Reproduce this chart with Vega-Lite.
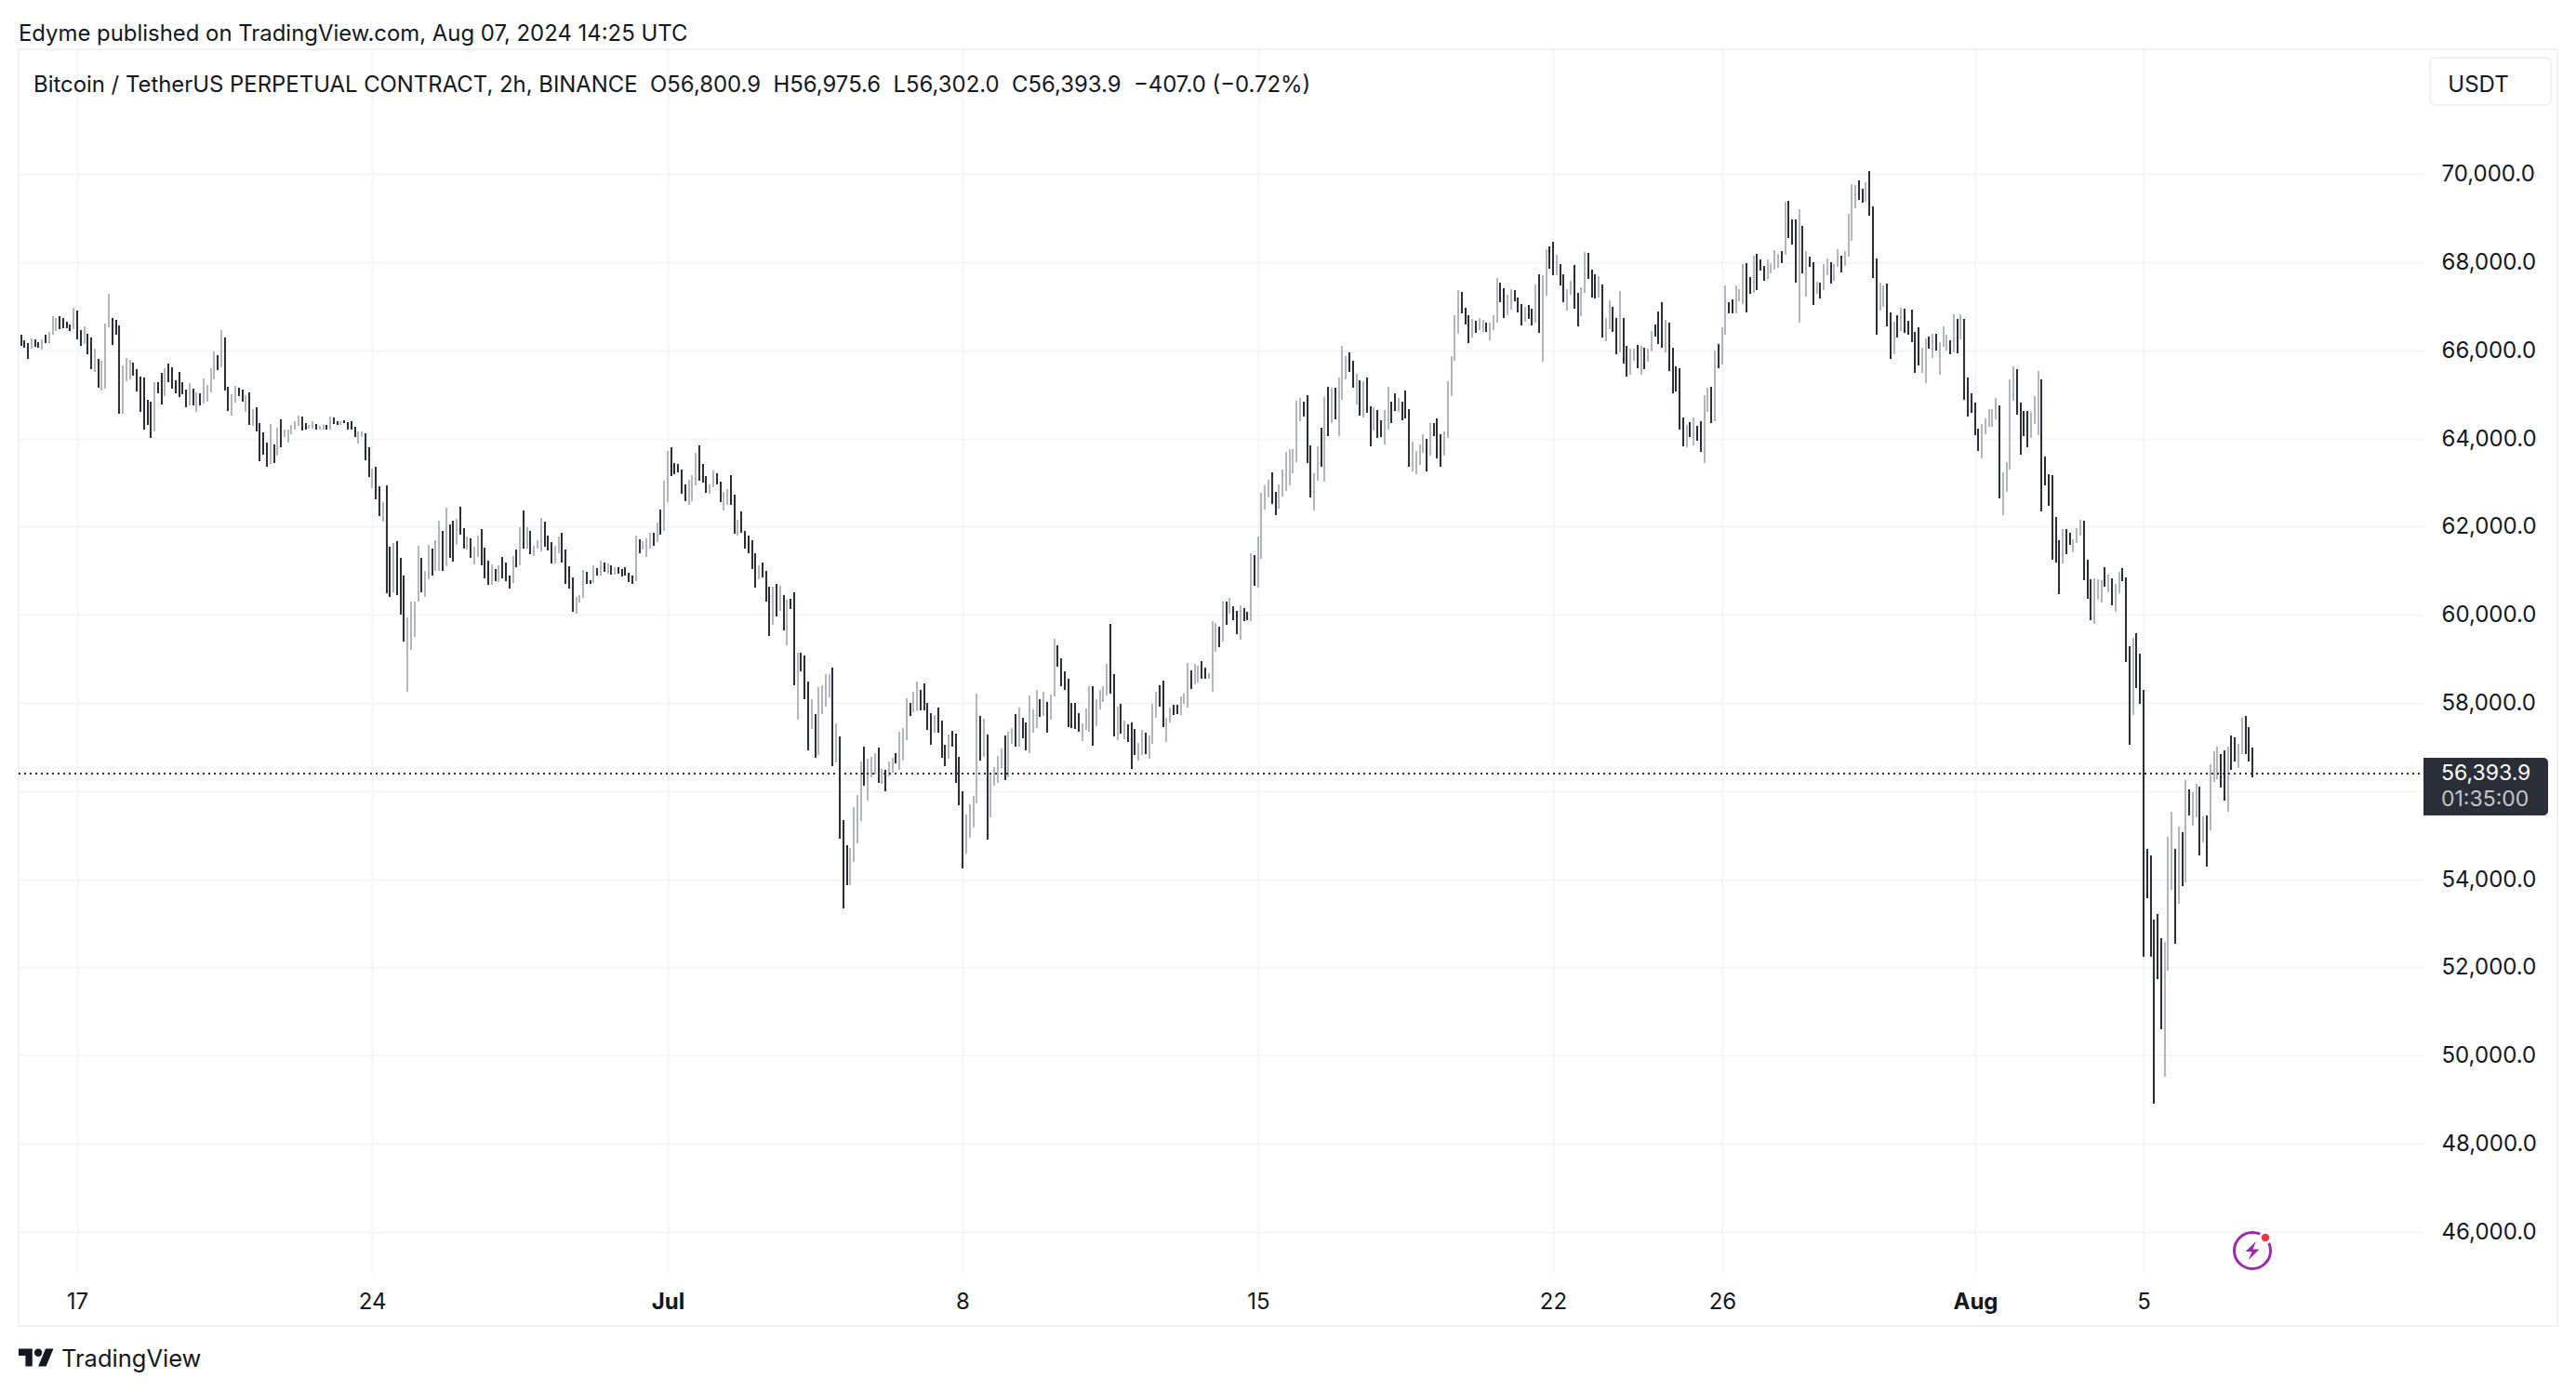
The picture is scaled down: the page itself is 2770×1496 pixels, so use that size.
{
"$schema":"https://vega.github.io/schema/vega-lite/v6.json",
"description":"BTCUSDT perpetual 2h high-low bars",
"background":"white",
"autosize":{"type":"none"},
"padding":{"left":20,"top":53,"right":164,"bottom":127},
"width":2586,
"height":1316,
"title":{"text":"Edyme published on TradingView.com, Aug 07, 2024 14:25 UTC","anchor":"start","frame":"group","offset":3,"fontSize":23.9,"fontWeight":"normal","font":"Inter","color":"#131722"},
"config":{"view":{"stroke":null},"text":{"font":"Inter"}},
"layer":[
{"data":{"values":[{}]},
 "mark":{"type":"rect","fill":"transparent","stroke":"#f0f1f6","strokeWidth":2},
 "encoding":{
  "x":{"datum":{"year":2024,"month":"jun","date":15,"hours":14,"minutes":40,"utc":true},"type":"temporal"},
  "x2":{"datum":{"year":2024,"month":"aug","date":14,"hours":19,"minutes":26,"utc":true}},
  "y":{"datum":72834,"type":"quantitative"},
  "y2":{"datum":43862}}},
{"data":{"values":[
{"t":"2024-06-15T16:00Z","lo":66105,"hi":66359,"dir":"d"},{"t":"2024-06-15T18:00Z","lo":66063,"hi":66232,"dir":"d"},{"t":"2024-06-15T20:00Z","lo":65810,"hi":66169,"dir":"d"},{"t":"2024-06-15T22:00Z","lo":66042,"hi":66274,"dir":"u"},
{"t":"2024-06-16T00:00Z","lo":66084,"hi":66253,"dir":"d"},{"t":"2024-06-16T02:00Z","lo":66063,"hi":66190,"dir":"d"},{"t":"2024-06-16T04:00Z","lo":66021,"hi":66253,"dir":"u"},{"t":"2024-06-16T06:00Z","lo":66169,"hi":66359,"dir":"d"},{"t":"2024-06-16T08:00Z","lo":66169,"hi":66422,"dir":"u"},{"t":"2024-06-16T10:00Z","lo":66359,"hi":66780,"dir":"u"},{"t":"2024-06-16T12:00Z","lo":66443,"hi":66738,"dir":"u"},{"t":"2024-06-16T14:00Z","lo":66485,"hi":66780,"dir":"d"},{"t":"2024-06-16T16:00Z","lo":66506,"hi":66738,"dir":"d"},{"t":"2024-06-16T18:00Z","lo":66506,"hi":66654,"dir":"d"},{"t":"2024-06-16T20:00Z","lo":66443,"hi":66591,"dir":"d"},{"t":"2024-06-16T22:00Z","lo":66485,"hi":66970,"dir":"u"},
{"t":"2024-06-17T00:00Z","lo":66253,"hi":66907,"dir":"d"},{"t":"2024-06-17T02:00Z","lo":66105,"hi":66464,"dir":"d"},{"t":"2024-06-17T04:00Z","lo":66148,"hi":66548,"dir":"u"},{"t":"2024-06-17T06:00Z","lo":65916,"hi":66380,"dir":"d"},{"t":"2024-06-17T08:00Z","lo":65578,"hi":66295,"dir":"d"},{"t":"2024-06-17T10:00Z","lo":65515,"hi":66042,"dir":"u"},{"t":"2024-06-17T12:00Z","lo":65156,"hi":65810,"dir":"d"},{"t":"2024-06-17T14:00Z","lo":65093,"hi":65768,"dir":"u"},{"t":"2024-06-17T16:00Z","lo":65135,"hi":66612,"dir":"u"},{"t":"2024-06-17T18:00Z","lo":66527,"hi":67286,"dir":"u"},{"t":"2024-06-17T20:00Z","lo":66127,"hi":66738,"dir":"d"},{"t":"2024-06-17T22:00Z","lo":66359,"hi":66696,"dir":"d"},
{"t":"2024-06-18T00:00Z","lo":64566,"hi":66569,"dir":"d"},{"t":"2024-06-18T02:00Z","lo":64566,"hi":65663,"dir":"u"},{"t":"2024-06-18T04:00Z","lo":65304,"hi":65831,"dir":"u"},{"t":"2024-06-18T06:00Z","lo":65346,"hi":65789,"dir":"u"},{"t":"2024-06-18T08:00Z","lo":65431,"hi":65726,"dir":"d"},{"t":"2024-06-18T10:00Z","lo":65072,"hi":65578,"dir":"d"},{"t":"2024-06-18T12:00Z","lo":64608,"hi":65409,"dir":"d"},{"t":"2024-06-18T14:00Z","lo":64207,"hi":65388,"dir":"d"},{"t":"2024-06-18T16:00Z","lo":64313,"hi":64882,"dir":"d"},{"t":"2024-06-18T18:00Z","lo":64017,"hi":64840,"dir":"d"},{"t":"2024-06-18T20:00Z","lo":64165,"hi":65283,"dir":"u"},{"t":"2024-06-18T22:00Z","lo":65030,"hi":65283,"dir":"d"},
{"t":"2024-06-19T00:00Z","lo":64777,"hi":65494,"dir":"d"},{"t":"2024-06-19T02:00Z","lo":64967,"hi":65599,"dir":"u"},{"t":"2024-06-19T04:00Z","lo":65283,"hi":65705,"dir":"d"},{"t":"2024-06-19T06:00Z","lo":65135,"hi":65620,"dir":"d"},{"t":"2024-06-19T08:00Z","lo":65030,"hi":65325,"dir":"d"},{"t":"2024-06-19T10:00Z","lo":64946,"hi":65515,"dir":"d"},{"t":"2024-06-19T12:00Z","lo":65009,"hi":65283,"dir":"d"},{"t":"2024-06-19T14:00Z","lo":64714,"hi":65114,"dir":"d"},{"t":"2024-06-19T16:00Z","lo":64756,"hi":65262,"dir":"u"},{"t":"2024-06-19T18:00Z","lo":64756,"hi":65135,"dir":"d"},{"t":"2024-06-19T20:00Z","lo":64608,"hi":65051,"dir":"u"},{"t":"2024-06-19T22:00Z","lo":64756,"hi":65030,"dir":"d"},
{"t":"2024-06-20T00:00Z","lo":64798,"hi":65367,"dir":"u"},{"t":"2024-06-20T02:00Z","lo":64840,"hi":65220,"dir":"u"},{"t":"2024-06-20T04:00Z","lo":65051,"hi":65599,"dir":"u"},{"t":"2024-06-20T06:00Z","lo":65346,"hi":65979,"dir":"u"},{"t":"2024-06-20T08:00Z","lo":65557,"hi":65895,"dir":"d"},{"t":"2024-06-20T10:00Z","lo":65620,"hi":66464,"dir":"u"},{"t":"2024-06-20T12:00Z","lo":65093,"hi":66295,"dir":"d"},{"t":"2024-06-20T14:00Z","lo":64629,"hi":65177,"dir":"d"},{"t":"2024-06-20T16:00Z","lo":64524,"hi":65009,"dir":"u"},{"t":"2024-06-20T18:00Z","lo":64819,"hi":65199,"dir":"u"},{"t":"2024-06-20T20:00Z","lo":64967,"hi":65156,"dir":"d"},{"t":"2024-06-20T22:00Z","lo":64840,"hi":65114,"dir":"d"},
{"t":"2024-06-21T00:00Z","lo":64608,"hi":64988,"dir":"u"},{"t":"2024-06-21T02:00Z","lo":64313,"hi":65051,"dir":"d"},{"t":"2024-06-21T04:00Z","lo":64292,"hi":64671,"dir":"u"},{"t":"2024-06-21T06:00Z","lo":64165,"hi":64713,"dir":"d"},{"t":"2024-06-21T08:00Z","lo":63490,"hi":64355,"dir":"d"},{"t":"2024-06-21T10:00Z","lo":63638,"hi":64144,"dir":"d"},{"t":"2024-06-21T12:00Z","lo":63364,"hi":63912,"dir":"d"},{"t":"2024-06-21T14:00Z","lo":63427,"hi":64334,"dir":"u"},{"t":"2024-06-21T16:00Z","lo":63448,"hi":63870,"dir":"d"},{"t":"2024-06-21T18:00Z","lo":63617,"hi":64250,"dir":"u"},{"t":"2024-06-21T20:00Z","lo":63807,"hi":64439,"dir":"d"},{"t":"2024-06-21T22:00Z","lo":64039,"hi":64207,"dir":"u"},
{"t":"2024-06-22T00:00Z","lo":63912,"hi":64207,"dir":"u"},{"t":"2024-06-22T02:00Z","lo":64102,"hi":64313,"dir":"u"},{"t":"2024-06-22T04:00Z","lo":64207,"hi":64397,"dir":"u"},{"t":"2024-06-22T06:00Z","lo":64292,"hi":64524,"dir":"u"},{"t":"2024-06-22T08:00Z","lo":64186,"hi":64503,"dir":"d"},{"t":"2024-06-22T10:00Z","lo":64207,"hi":64355,"dir":"d"},{"t":"2024-06-22T12:00Z","lo":64228,"hi":64313,"dir":"u"},{"t":"2024-06-22T14:00Z","lo":64228,"hi":64397,"dir":"u"},{"t":"2024-06-22T16:00Z","lo":64207,"hi":64334,"dir":"d"},{"t":"2024-06-22T18:00Z","lo":64207,"hi":64292,"dir":"u"},{"t":"2024-06-22T20:00Z","lo":64207,"hi":64313,"dir":"u"},{"t":"2024-06-22T22:00Z","lo":64207,"hi":64313,"dir":"d"},
{"t":"2024-06-23T00:00Z","lo":64207,"hi":64503,"dir":"u"},{"t":"2024-06-23T02:00Z","lo":64334,"hi":64482,"dir":"d"},{"t":"2024-06-23T04:00Z","lo":64313,"hi":64397,"dir":"d"},{"t":"2024-06-23T06:00Z","lo":64313,"hi":64397,"dir":"u"},{"t":"2024-06-23T08:00Z","lo":64355,"hi":64418,"dir":"d"},{"t":"2024-06-23T10:00Z","lo":64207,"hi":64376,"dir":"d"},{"t":"2024-06-23T12:00Z","lo":64207,"hi":64397,"dir":"d"},{"t":"2024-06-23T14:00Z","lo":64039,"hi":64271,"dir":"d"},{"t":"2024-06-23T16:00Z","lo":63891,"hi":64165,"dir":"u"},{"t":"2024-06-23T18:00Z","lo":64039,"hi":64165,"dir":"u"},{"t":"2024-06-23T20:00Z","lo":63511,"hi":64123,"dir":"d"},{"t":"2024-06-23T22:00Z","lo":63132,"hi":63807,"dir":"d"},
{"t":"2024-06-24T00:00Z","lo":62879,"hi":63322,"dir":"u"},{"t":"2024-06-24T02:00Z","lo":62626,"hi":63364,"dir":"d"},{"t":"2024-06-24T04:00Z","lo":62246,"hi":62921,"dir":"d"},{"t":"2024-06-24T06:00Z","lo":62119,"hi":62562,"dir":"u"},{"t":"2024-06-24T08:00Z","lo":60496,"hi":62942,"dir":"d"},{"t":"2024-06-24T10:00Z","lo":60400,"hi":61550,"dir":"d"},{"t":"2024-06-24T12:00Z","lo":60500,"hi":61634,"dir":"u"},{"t":"2024-06-24T14:00Z","lo":60450,"hi":61677,"dir":"d"},{"t":"2024-06-24T16:00Z","lo":60000,"hi":61300,"dir":"d"},{"t":"2024-06-24T18:00Z","lo":59400,"hi":60900,"dir":"d"},{"t":"2024-06-24T20:00Z","lo":58250,"hi":59950,"dir":"u"},{"t":"2024-06-24T22:00Z","lo":59200,"hi":60300,"dir":"u"},
{"t":"2024-06-25T00:00Z","lo":59500,"hi":60300,"dir":"u"},{"t":"2024-06-25T02:00Z","lo":60300,"hi":61571,"dir":"u"},{"t":"2024-06-25T04:00Z","lo":60500,"hi":61300,"dir":"d"},{"t":"2024-06-25T06:00Z","lo":60400,"hi":61000,"dir":"u"},{"t":"2024-06-25T08:00Z","lo":60800,"hi":61592,"dir":"u"},{"t":"2024-06-25T10:00Z","lo":60900,"hi":61500,"dir":"d"},{"t":"2024-06-25T12:00Z","lo":61000,"hi":61700,"dir":"u"},{"t":"2024-06-25T14:00Z","lo":61000,"hi":62141,"dir":"u"},{"t":"2024-06-25T16:00Z","lo":61000,"hi":61908,"dir":"d"},{"t":"2024-06-25T18:00Z","lo":61100,"hi":62436,"dir":"u"},{"t":"2024-06-25T20:00Z","lo":61300,"hi":62056,"dir":"d"},{"t":"2024-06-25T22:00Z","lo":61200,"hi":62141,"dir":"d"},
{"t":"2024-06-26T00:00Z","lo":61592,"hi":62169,"dir":"u"},{"t":"2024-06-26T02:00Z","lo":61824,"hi":62457,"dir":"d"},{"t":"2024-06-26T04:00Z","lo":61508,"hi":61972,"dir":"d"},{"t":"2024-06-26T06:00Z","lo":61487,"hi":61782,"dir":"u"},{"t":"2024-06-26T08:00Z","lo":61297,"hi":61740,"dir":"d"},{"t":"2024-06-26T10:00Z","lo":61149,"hi":61550,"dir":"u"},{"t":"2024-06-26T12:00Z","lo":61318,"hi":61803,"dir":"u"},{"t":"2024-06-26T14:00Z","lo":61128,"hi":61951,"dir":"d"},{"t":"2024-06-26T16:00Z","lo":60833,"hi":61529,"dir":"d"},{"t":"2024-06-26T18:00Z","lo":60685,"hi":61234,"dir":"d"},{"t":"2024-06-26T20:00Z","lo":60685,"hi":61149,"dir":"u"},{"t":"2024-06-26T22:00Z","lo":60770,"hi":61044,"dir":"d"},
{"t":"2024-06-27T00:00Z","lo":60749,"hi":61128,"dir":"u"},{"t":"2024-06-27T02:00Z","lo":60833,"hi":61318,"dir":"d"},{"t":"2024-06-27T04:00Z","lo":60770,"hi":61192,"dir":"d"},{"t":"2024-06-27T06:00Z","lo":60601,"hi":60896,"dir":"d"},{"t":"2024-06-27T08:00Z","lo":60728,"hi":61339,"dir":"u"},{"t":"2024-06-27T10:00Z","lo":61086,"hi":61487,"dir":"d"},{"t":"2024-06-27T12:00Z","lo":61128,"hi":61993,"dir":"u"},{"t":"2024-06-27T14:00Z","lo":61508,"hi":62373,"dir":"d"},{"t":"2024-06-27T16:00Z","lo":61508,"hi":61993,"dir":"u"},{"t":"2024-06-27T18:00Z","lo":61381,"hi":61909,"dir":"d"},{"t":"2024-06-27T20:00Z","lo":61339,"hi":61571,"dir":"u"},{"t":"2024-06-27T22:00Z","lo":61508,"hi":61698,"dir":"u"},
{"t":"2024-06-28T00:00Z","lo":61445,"hi":62204,"dir":"u"},{"t":"2024-06-28T02:00Z","lo":61550,"hi":62120,"dir":"d"},{"t":"2024-06-28T04:00Z","lo":61466,"hi":61803,"dir":"d"},{"t":"2024-06-28T06:00Z","lo":61170,"hi":61656,"dir":"d"},{"t":"2024-06-28T08:00Z","lo":61170,"hi":61571,"dir":"u"},{"t":"2024-06-28T10:00Z","lo":61402,"hi":61782,"dir":"u"},{"t":"2024-06-28T12:00Z","lo":61192,"hi":61866,"dir":"d"},{"t":"2024-06-28T14:00Z","lo":60706,"hi":61487,"dir":"d"},{"t":"2024-06-28T16:00Z","lo":60601,"hi":61107,"dir":"d"},{"t":"2024-06-28T18:00Z","lo":60074,"hi":60854,"dir":"d"},{"t":"2024-06-28T20:00Z","lo":60032,"hi":60411,"dir":"u"},{"t":"2024-06-28T22:00Z","lo":60285,"hi":60453,"dir":"u"},
{"t":"2024-06-29T00:00Z","lo":60390,"hi":61023,"dir":"u"},{"t":"2024-06-29T02:00Z","lo":60706,"hi":60981,"dir":"d"},{"t":"2024-06-29T04:00Z","lo":60706,"hi":60791,"dir":"d"},{"t":"2024-06-29T06:00Z","lo":60728,"hi":61128,"dir":"u"},{"t":"2024-06-29T08:00Z","lo":60896,"hi":61065,"dir":"d"},{"t":"2024-06-29T10:00Z","lo":60896,"hi":61234,"dir":"u"},{"t":"2024-06-29T12:00Z","lo":60981,"hi":61192,"dir":"d"},{"t":"2024-06-29T14:00Z","lo":60938,"hi":61170,"dir":"u"},{"t":"2024-06-29T16:00Z","lo":60917,"hi":61128,"dir":"d"},{"t":"2024-06-29T18:00Z","lo":60917,"hi":61086,"dir":"u"},{"t":"2024-06-29T20:00Z","lo":60938,"hi":61086,"dir":"d"},{"t":"2024-06-29T22:00Z","lo":60875,"hi":61044,"dir":"d"},
{"t":"2024-06-30T00:00Z","lo":60896,"hi":61086,"dir":"d"},{"t":"2024-06-30T02:00Z","lo":60749,"hi":60960,"dir":"d"},{"t":"2024-06-30T04:00Z","lo":60706,"hi":60896,"dir":"d"},{"t":"2024-06-30T06:00Z","lo":60770,"hi":61803,"dir":"u"},{"t":"2024-06-30T08:00Z","lo":61402,"hi":61719,"dir":"d"},{"t":"2024-06-30T10:00Z","lo":61487,"hi":61677,"dir":"u"},{"t":"2024-06-30T12:00Z","lo":61318,"hi":61740,"dir":"u"},{"t":"2024-06-30T14:00Z","lo":61508,"hi":61866,"dir":"u"},{"t":"2024-06-30T16:00Z","lo":61571,"hi":61866,"dir":"d"},{"t":"2024-06-30T18:00Z","lo":61656,"hi":62098,"dir":"u"},{"t":"2024-06-30T20:00Z","lo":61824,"hi":62394,"dir":"d"},{"t":"2024-06-30T22:00Z","lo":61909,"hi":63047,"dir":"u"},
{"t":"2024-07-01T00:00Z","lo":62562,"hi":63722,"dir":"u"},{"t":"2024-07-01T02:00Z","lo":63153,"hi":63807,"dir":"d"},{"t":"2024-07-01T04:00Z","lo":63195,"hi":63448,"dir":"d"},{"t":"2024-07-01T06:00Z","lo":63237,"hi":63427,"dir":"d"},{"t":"2024-07-01T08:00Z","lo":62752,"hi":63300,"dir":"d"},{"t":"2024-07-01T10:00Z","lo":62584,"hi":62963,"dir":"d"},{"t":"2024-07-01T12:00Z","lo":62499,"hi":63069,"dir":"u"},{"t":"2024-07-01T14:00Z","lo":62584,"hi":63174,"dir":"u"},{"t":"2024-07-01T16:00Z","lo":62942,"hi":63680,"dir":"u"},{"t":"2024-07-01T18:00Z","lo":63047,"hi":63849,"dir":"d"},{"t":"2024-07-01T20:00Z","lo":63005,"hi":63427,"dir":"d"},{"t":"2024-07-01T22:00Z","lo":62773,"hi":63153,"dir":"d"},
{"t":"2024-07-02T00:00Z","lo":62752,"hi":62963,"dir":"u"},{"t":"2024-07-02T02:00Z","lo":62900,"hi":63279,"dir":"u"},{"t":"2024-07-02T04:00Z","lo":62963,"hi":63216,"dir":"d"},{"t":"2024-07-02T06:00Z","lo":62562,"hi":63026,"dir":"d"},{"t":"2024-07-02T08:00Z","lo":62373,"hi":62794,"dir":"u"},{"t":"2024-07-02T10:00Z","lo":62499,"hi":62858,"dir":"u"},{"t":"2024-07-02T12:00Z","lo":62499,"hi":63174,"dir":"d"},{"t":"2024-07-02T14:00Z","lo":61845,"hi":62731,"dir":"d"},{"t":"2024-07-02T16:00Z","lo":61803,"hi":62162,"dir":"u"},{"t":"2024-07-02T18:00Z","lo":61866,"hi":62352,"dir":"d"},{"t":"2024-07-02T20:00Z","lo":61500,"hi":61900,"dir":"d"},{"t":"2024-07-02T22:00Z","lo":61400,"hi":61800,"dir":"d"},
{"t":"2024-07-03T00:00Z","lo":61032,"hi":61700,"dir":"d"},{"t":"2024-07-03T02:00Z","lo":60611,"hi":61400,"dir":"d"},{"t":"2024-07-03T04:00Z","lo":60800,"hi":61116,"dir":"u"},{"t":"2024-07-03T06:00Z","lo":60842,"hi":61179,"dir":"d"},{"t":"2024-07-03T08:00Z","lo":60295,"hi":60990,"dir":"d"},{"t":"2024-07-03T10:00Z","lo":59516,"hi":60632,"dir":"d"},{"t":"2024-07-03T12:00Z","lo":59768,"hi":60632,"dir":"u"},{"t":"2024-07-03T14:00Z","lo":59958,"hi":60695,"dir":"d"},{"t":"2024-07-03T16:00Z","lo":60084,"hi":60653,"dir":"u"},{"t":"2024-07-03T18:00Z","lo":59642,"hi":60442,"dir":"d"},{"t":"2024-07-03T20:00Z","lo":59305,"hi":60337,"dir":"u"},{"t":"2024-07-03T22:00Z","lo":60126,"hi":60358,"dir":"d"},
{"t":"2024-07-04T00:00Z","lo":58399,"hi":60505,"dir":"d"},{"t":"2024-07-04T02:00Z","lo":57620,"hi":59137,"dir":"u"},{"t":"2024-07-04T04:00Z","lo":58715,"hi":59137,"dir":"d"},{"t":"2024-07-04T06:00Z","lo":58084,"hi":59073,"dir":"d"},{"t":"2024-07-04T08:00Z","lo":56925,"hi":58484,"dir":"d"},{"t":"2024-07-04T10:00Z","lo":57410,"hi":58084,"dir":"u"},{"t":"2024-07-04T12:00Z","lo":56757,"hi":57747,"dir":"d"},{"t":"2024-07-04T14:00Z","lo":56820,"hi":58357,"dir":"u"},{"t":"2024-07-04T16:00Z","lo":57747,"hi":58399,"dir":"u"},{"t":"2024-07-04T18:00Z","lo":57915,"hi":58652,"dir":"u"},{"t":"2024-07-04T20:00Z","lo":58126,"hi":58652,"dir":"u"},{"t":"2024-07-04T22:00Z","lo":56567,"hi":58800,"dir":"d"},
{"t":"2024-07-05T00:00Z","lo":56651,"hi":57536,"dir":"u"},{"t":"2024-07-05T02:00Z","lo":54924,"hi":57241,"dir":"d"},{"t":"2024-07-05T04:00Z","lo":53345,"hi":55346,"dir":"d"},{"t":"2024-07-05T06:00Z","lo":53871,"hi":54777,"dir":"d"},{"t":"2024-07-05T08:00Z","lo":53871,"hi":54714,"dir":"u"},{"t":"2024-07-05T10:00Z","lo":54398,"hi":55640,"dir":"u"},{"t":"2024-07-05T12:00Z","lo":54819,"hi":55914,"dir":"u"},{"t":"2024-07-05T14:00Z","lo":55325,"hi":56672,"dir":"u"},{"t":"2024-07-05T16:00Z","lo":56125,"hi":57009,"dir":"d"},{"t":"2024-07-05T18:00Z","lo":55788,"hi":56736,"dir":"u"},{"t":"2024-07-05T20:00Z","lo":56315,"hi":56778,"dir":"u"},{"t":"2024-07-05T22:00Z","lo":56378,"hi":56862,"dir":"u"},
{"t":"2024-07-06T00:00Z","lo":56188,"hi":56988,"dir":"d"},{"t":"2024-07-06T02:00Z","lo":56167,"hi":56504,"dir":"u"},{"t":"2024-07-06T04:00Z","lo":55998,"hi":56483,"dir":"d"},{"t":"2024-07-06T06:00Z","lo":56336,"hi":56672,"dir":"u"},{"t":"2024-07-06T08:00Z","lo":56420,"hi":56757,"dir":"u"},{"t":"2024-07-06T10:00Z","lo":56630,"hi":56862,"dir":"d"},{"t":"2024-07-06T12:00Z","lo":56483,"hi":57347,"dir":"u"},{"t":"2024-07-06T14:00Z","lo":56694,"hi":57431,"dir":"u"},{"t":"2024-07-06T16:00Z","lo":57157,"hi":58105,"dir":"u"},{"t":"2024-07-06T18:00Z","lo":57704,"hi":58000,"dir":"d"},{"t":"2024-07-06T20:00Z","lo":57788,"hi":58252,"dir":"u"},{"t":"2024-07-06T22:00Z","lo":57831,"hi":58484,"dir":"u"},
{"t":"2024-07-07T00:00Z","lo":57831,"hi":58294,"dir":"d"},{"t":"2024-07-07T02:00Z","lo":57831,"hi":58442,"dir":"d"},{"t":"2024-07-07T04:00Z","lo":57389,"hi":58000,"dir":"d"},{"t":"2024-07-07T06:00Z","lo":57052,"hi":57768,"dir":"d"},{"t":"2024-07-07T08:00Z","lo":57325,"hi":57726,"dir":"u"},{"t":"2024-07-07T10:00Z","lo":57325,"hi":57894,"dir":"d"},{"t":"2024-07-07T12:00Z","lo":56757,"hi":57599,"dir":"d"},{"t":"2024-07-07T14:00Z","lo":56567,"hi":57052,"dir":"d"},{"t":"2024-07-07T16:00Z","lo":56736,"hi":57283,"dir":"u"},{"t":"2024-07-07T18:00Z","lo":57009,"hi":57367,"dir":"d"},{"t":"2024-07-07T20:00Z","lo":56188,"hi":57304,"dir":"d"},{"t":"2024-07-07T22:00Z","lo":55683,"hi":56778,"dir":"d"},
{"t":"2024-07-08T00:00Z","lo":54251,"hi":55999,"dir":"d"},{"t":"2024-07-08T02:00Z","lo":54588,"hi":55472,"dir":"u"},{"t":"2024-07-08T04:00Z","lo":54946,"hi":55704,"dir":"u"},{"t":"2024-07-08T06:00Z","lo":55177,"hi":55893,"dir":"u"},{"t":"2024-07-08T08:00Z","lo":55725,"hi":58210,"dir":"u"},{"t":"2024-07-08T10:00Z","lo":56694,"hi":57704,"dir":"d"},{"t":"2024-07-08T12:00Z","lo":56778,"hi":57641,"dir":"u"},{"t":"2024-07-08T14:00Z","lo":54903,"hi":57283,"dir":"d"},{"t":"2024-07-08T16:00Z","lo":55409,"hi":56378,"dir":"u"},{"t":"2024-07-08T18:00Z","lo":56125,"hi":56546,"dir":"u"},{"t":"2024-07-08T20:00Z","lo":56188,"hi":56799,"dir":"u"},{"t":"2024-07-08T22:00Z","lo":56525,"hi":56967,"dir":"u"},
{"t":"2024-07-09T00:00Z","lo":56251,"hi":57262,"dir":"d"},{"t":"2024-07-09T02:00Z","lo":56315,"hi":57346,"dir":"u"},{"t":"2024-07-09T04:00Z","lo":57073,"hi":57431,"dir":"u"},{"t":"2024-07-09T06:00Z","lo":57009,"hi":57747,"dir":"d"},{"t":"2024-07-09T08:00Z","lo":57009,"hi":57894,"dir":"u"},{"t":"2024-07-09T10:00Z","lo":57199,"hi":57662,"dir":"d"},{"t":"2024-07-09T12:00Z","lo":56919,"hi":57551,"dir":"d"},{"t":"2024-07-09T14:00Z","lo":56856,"hi":58161,"dir":"u"},{"t":"2024-07-09T16:00Z","lo":57319,"hi":57846,"dir":"u"},{"t":"2024-07-09T18:00Z","lo":57424,"hi":58288,"dir":"u"},{"t":"2024-07-09T20:00Z","lo":57677,"hi":58077,"dir":"d"},{"t":"2024-07-09T22:00Z","lo":57698,"hi":58246,"dir":"u"},
{"t":"2024-07-10T00:00Z","lo":57319,"hi":58014,"dir":"d"},{"t":"2024-07-10T02:00Z","lo":57614,"hi":58183,"dir":"u"},{"t":"2024-07-10T04:00Z","lo":58140,"hi":59446,"dir":"u"},{"t":"2024-07-10T06:00Z","lo":58814,"hi":59299,"dir":"d"},{"t":"2024-07-10T08:00Z","lo":58372,"hi":59004,"dir":"d"},{"t":"2024-07-10T10:00Z","lo":58288,"hi":58709,"dir":"d"},{"t":"2024-07-10T12:00Z","lo":57445,"hi":58541,"dir":"d"},{"t":"2024-07-10T14:00Z","lo":57424,"hi":57993,"dir":"d"},{"t":"2024-07-10T16:00Z","lo":57403,"hi":57993,"dir":"d"},{"t":"2024-07-10T18:00Z","lo":57340,"hi":57761,"dir":"d"},{"t":"2024-07-10T20:00Z","lo":57130,"hi":57530,"dir":"u"},{"t":"2024-07-10T22:00Z","lo":57382,"hi":57867,"dir":"u"},
{"t":"2024-07-11T00:00Z","lo":57340,"hi":58372,"dir":"u"},{"t":"2024-07-11T02:00Z","lo":57024,"hi":58372,"dir":"d"},{"t":"2024-07-11T04:00Z","lo":57466,"hi":58077,"dir":"u"},{"t":"2024-07-11T06:00Z","lo":57846,"hi":58288,"dir":"u"},{"t":"2024-07-11T08:00Z","lo":58014,"hi":58372,"dir":"u"},{"t":"2024-07-11T10:00Z","lo":58161,"hi":58877,"dir":"u"},{"t":"2024-07-11T12:00Z","lo":58204,"hi":59783,"dir":"d"},{"t":"2024-07-11T14:00Z","lo":57235,"hi":58646,"dir":"d"},{"t":"2024-07-11T16:00Z","lo":57151,"hi":57909,"dir":"u"},{"t":"2024-07-11T18:00Z","lo":57298,"hi":57972,"dir":"d"},{"t":"2024-07-11T20:00Z","lo":57172,"hi":57593,"dir":"u"},{"t":"2024-07-11T22:00Z","lo":57108,"hi":57509,"dir":"d"},
{"t":"2024-07-12T00:00Z","lo":56498,"hi":57551,"dir":"d"},{"t":"2024-07-12T02:00Z","lo":56814,"hi":57403,"dir":"d"},{"t":"2024-07-12T04:00Z","lo":56687,"hi":57087,"dir":"u"},{"t":"2024-07-12T06:00Z","lo":56814,"hi":57382,"dir":"u"},{"t":"2024-07-12T08:00Z","lo":56835,"hi":57319,"dir":"d"},{"t":"2024-07-12T10:00Z","lo":56729,"hi":57256,"dir":"u"},{"t":"2024-07-12T12:00Z","lo":57066,"hi":57972,"dir":"u"},{"t":"2024-07-12T14:00Z","lo":57656,"hi":58246,"dir":"u"},{"t":"2024-07-12T16:00Z","lo":57909,"hi":58393,"dir":"d"},{"t":"2024-07-12T18:00Z","lo":57445,"hi":58498,"dir":"d"},{"t":"2024-07-12T20:00Z","lo":57108,"hi":57656,"dir":"u"},{"t":"2024-07-12T22:00Z","lo":57551,"hi":57888,"dir":"u"},
{"t":"2024-07-13T00:00Z","lo":57719,"hi":57951,"dir":"d"},{"t":"2024-07-13T02:00Z","lo":57740,"hi":57951,"dir":"d"},{"t":"2024-07-13T04:00Z","lo":57719,"hi":58140,"dir":"u"},{"t":"2024-07-13T06:00Z","lo":57972,"hi":58204,"dir":"u"},{"t":"2024-07-13T08:00Z","lo":57888,"hi":58899,"dir":"u"},{"t":"2024-07-13T10:00Z","lo":58309,"hi":58730,"dir":"d"},{"t":"2024-07-13T12:00Z","lo":58414,"hi":58877,"dir":"u"},{"t":"2024-07-13T14:00Z","lo":58456,"hi":58835,"dir":"u"},{"t":"2024-07-13T16:00Z","lo":58541,"hi":58941,"dir":"d"},{"t":"2024-07-13T18:00Z","lo":58541,"hi":58793,"dir":"d"},{"t":"2024-07-13T20:00Z","lo":58541,"hi":58667,"dir":"u"},{"t":"2024-07-13T22:00Z","lo":58246,"hi":59846,"dir":"u"},
{"t":"2024-07-14T00:00Z","lo":59151,"hi":59804,"dir":"u"},{"t":"2024-07-14T02:00Z","lo":59257,"hi":59720,"dir":"d"},{"t":"2024-07-14T04:00Z","lo":59383,"hi":60289,"dir":"u"},{"t":"2024-07-14T06:00Z","lo":59762,"hi":60289,"dir":"d"},{"t":"2024-07-14T08:00Z","lo":60015,"hi":60394,"dir":"u"},{"t":"2024-07-14T10:00Z","lo":59867,"hi":60204,"dir":"d"},{"t":"2024-07-14T12:00Z","lo":59551,"hi":60078,"dir":"d"},{"t":"2024-07-14T14:00Z","lo":59425,"hi":60225,"dir":"u"},{"t":"2024-07-14T16:00Z","lo":59846,"hi":60162,"dir":"d"},{"t":"2024-07-14T18:00Z","lo":59867,"hi":60057,"dir":"d"},{"t":"2024-07-14T20:00Z","lo":59846,"hi":61405,"dir":"u"},{"t":"2024-07-14T22:00Z","lo":60668,"hi":61363,"dir":"d"},
{"t":"2024-07-15T00:00Z","lo":60626,"hi":61784,"dir":"u"},{"t":"2024-07-15T02:00Z","lo":61278,"hi":62774,"dir":"u"},{"t":"2024-07-15T04:00Z","lo":62395,"hi":62943,"dir":"u"},{"t":"2024-07-15T06:00Z","lo":62668,"hi":63068,"dir":"u"},{"t":"2024-07-15T08:00Z","lo":62521,"hi":63237,"dir":"d"},{"t":"2024-07-15T10:00Z","lo":62268,"hi":62795,"dir":"d"},{"t":"2024-07-15T12:00Z","lo":62416,"hi":62963,"dir":"u"},{"t":"2024-07-15T14:00Z","lo":62689,"hi":63300,"dir":"u"},{"t":"2024-07-15T16:00Z","lo":62816,"hi":63700,"dir":"u"},{"t":"2024-07-15T18:00Z","lo":62942,"hi":63763,"dir":"u"},{"t":"2024-07-15T20:00Z","lo":63216,"hi":63763,"dir":"u"},{"t":"2024-07-15T22:00Z","lo":63469,"hi":64859,"dir":"u"},
{"t":"2024-07-16T00:00Z","lo":64395,"hi":64922,"dir":"u"},{"t":"2024-07-16T02:00Z","lo":64505,"hi":64842,"dir":"d"},{"t":"2024-07-16T04:00Z","lo":63452,"hi":64989,"dir":"d"},{"t":"2024-07-16T06:00Z","lo":62672,"hi":63852,"dir":"d"},{"t":"2024-07-16T08:00Z","lo":62357,"hi":63220,"dir":"u"},{"t":"2024-07-16T10:00Z","lo":63052,"hi":63831,"dir":"u"},{"t":"2024-07-16T12:00Z","lo":63368,"hi":64252,"dir":"d"},{"t":"2024-07-16T14:00Z","lo":63031,"hi":64947,"dir":"u"},{"t":"2024-07-16T16:00Z","lo":64062,"hi":65179,"dir":"d"},{"t":"2024-07-16T18:00Z","lo":64357,"hi":65158,"dir":"u"},{"t":"2024-07-16T20:00Z","lo":64442,"hi":65158,"dir":"d"},{"t":"2024-07-16T22:00Z","lo":64062,"hi":65389,"dir":"u"},
{"t":"2024-07-17T00:00Z","lo":64884,"hi":66105,"dir":"u"},{"t":"2024-07-17T02:00Z","lo":65347,"hi":65874,"dir":"u"},{"t":"2024-07-17T04:00Z","lo":65516,"hi":65958,"dir":"d"},{"t":"2024-07-17T06:00Z","lo":65158,"hi":65768,"dir":"d"},{"t":"2024-07-17T08:00Z","lo":64779,"hi":65474,"dir":"u"},{"t":"2024-07-17T10:00Z","lo":64526,"hi":65326,"dir":"d"},{"t":"2024-07-17T12:00Z","lo":64484,"hi":65305,"dir":"u"},{"t":"2024-07-17T14:00Z","lo":64589,"hi":65389,"dir":"d"},{"t":"2024-07-17T16:00Z","lo":63831,"hi":64736,"dir":"d"},{"t":"2024-07-17T18:00Z","lo":64189,"hi":64715,"dir":"u"},{"t":"2024-07-17T20:00Z","lo":64020,"hi":64652,"dir":"d"},{"t":"2024-07-17T22:00Z","lo":64041,"hi":64420,"dir":"d"},
{"t":"2024-07-18T00:00Z","lo":63873,"hi":64652,"dir":"u"},{"t":"2024-07-18T02:00Z","lo":64210,"hi":65179,"dir":"u"},{"t":"2024-07-18T04:00Z","lo":64357,"hi":64842,"dir":"d"},{"t":"2024-07-18T06:00Z","lo":64631,"hi":65031,"dir":"d"},{"t":"2024-07-18T08:00Z","lo":64610,"hi":64926,"dir":"u"},{"t":"2024-07-18T10:00Z","lo":64420,"hi":64842,"dir":"d"},{"t":"2024-07-18T12:00Z","lo":64463,"hi":65095,"dir":"d"},{"t":"2024-07-18T14:00Z","lo":63368,"hi":64673,"dir":"d"},{"t":"2024-07-18T16:00Z","lo":63262,"hi":63936,"dir":"u"},{"t":"2024-07-18T18:00Z","lo":63199,"hi":63726,"dir":"u"},{"t":"2024-07-18T20:00Z","lo":63410,"hi":63873,"dir":"u"},{"t":"2024-07-18T22:00Z","lo":63683,"hi":64105,"dir":"u"},
{"t":"2024-07-19T00:00Z","lo":63262,"hi":64000,"dir":"d"},{"t":"2024-07-19T02:00Z","lo":63620,"hi":64357,"dir":"u"},{"t":"2024-07-19T04:00Z","lo":64062,"hi":64357,"dir":"d"},{"t":"2024-07-19T06:00Z","lo":63557,"hi":64463,"dir":"d"},{"t":"2024-07-19T08:00Z","lo":63368,"hi":64105,"dir":"d"},{"t":"2024-07-19T10:00Z","lo":63620,"hi":64168,"dir":"u"},{"t":"2024-07-19T12:00Z","lo":64020,"hi":65305,"dir":"u"},{"t":"2024-07-19T14:00Z","lo":64968,"hi":65874,"dir":"u"},{"t":"2024-07-19T16:00Z","lo":65768,"hi":66800,"dir":"u"},{"t":"2024-07-19T18:00Z","lo":66379,"hi":67369,"dir":"u"},{"t":"2024-07-19T20:00Z","lo":66842,"hi":67327,"dir":"d"},{"t":"2024-07-19T22:00Z","lo":66590,"hi":66969,"dir":"d"},
{"t":"2024-07-20T00:00Z","lo":66168,"hi":66800,"dir":"d"},{"t":"2024-07-20T02:00Z","lo":66295,"hi":66716,"dir":"u"},{"t":"2024-07-20T04:00Z","lo":66400,"hi":66674,"dir":"d"},{"t":"2024-07-20T06:00Z","lo":66463,"hi":66737,"dir":"u"},{"t":"2024-07-20T08:00Z","lo":66421,"hi":66695,"dir":"u"},{"t":"2024-07-20T10:00Z","lo":66421,"hi":66632,"dir":"d"},{"t":"2024-07-20T12:00Z","lo":66232,"hi":66632,"dir":"u"},{"t":"2024-07-20T14:00Z","lo":66463,"hi":66800,"dir":"u"},{"t":"2024-07-20T16:00Z","lo":66632,"hi":67643,"dir":"u"},{"t":"2024-07-20T18:00Z","lo":67095,"hi":67537,"dir":"d"},{"t":"2024-07-20T20:00Z","lo":66737,"hi":67411,"dir":"d"},{"t":"2024-07-20T22:00Z","lo":66800,"hi":67264,"dir":"u"},
{"t":"2024-07-21T00:00Z","lo":66927,"hi":67390,"dir":"u"},{"t":"2024-07-21T02:00Z","lo":67116,"hi":67369,"dir":"d"},{"t":"2024-07-21T04:00Z","lo":66863,"hi":67200,"dir":"d"},{"t":"2024-07-21T06:00Z","lo":66569,"hi":67053,"dir":"d"},{"t":"2024-07-21T08:00Z","lo":66653,"hi":66990,"dir":"u"},{"t":"2024-07-21T10:00Z","lo":66716,"hi":67032,"dir":"d"},{"t":"2024-07-21T12:00Z","lo":66569,"hi":66948,"dir":"d"},{"t":"2024-07-21T14:00Z","lo":66632,"hi":67495,"dir":"u"},{"t":"2024-07-21T16:00Z","lo":66400,"hi":67727,"dir":"d"},{"t":"2024-07-21T18:00Z","lo":65747,"hi":67706,"dir":"u"},{"t":"2024-07-21T20:00Z","lo":67243,"hi":68296,"dir":"u"},{"t":"2024-07-21T22:00Z","lo":67853,"hi":68359,"dir":"d"},
{"t":"2024-07-22T00:00Z","lo":67706,"hi":68464,"dir":"d"},{"t":"2024-07-22T02:00Z","lo":67706,"hi":68169,"dir":"u"},{"t":"2024-07-22T04:00Z","lo":67474,"hi":67959,"dir":"d"},{"t":"2024-07-22T06:00Z","lo":67095,"hi":67727,"dir":"d"},{"t":"2024-07-22T08:00Z","lo":66906,"hi":67390,"dir":"u"},{"t":"2024-07-22T10:00Z","lo":67264,"hi":67580,"dir":"u"},{"t":"2024-07-22T12:00Z","lo":66948,"hi":67938,"dir":"d"},{"t":"2024-07-22T14:00Z","lo":66548,"hi":67306,"dir":"d"},{"t":"2024-07-22T16:00Z","lo":66779,"hi":67432,"dir":"u"},{"t":"2024-07-22T18:00Z","lo":67299,"hi":68225,"dir":"u"},{"t":"2024-07-22T20:00Z","lo":67615,"hi":68204,"dir":"d"},{"t":"2024-07-22T22:00Z","lo":67193,"hi":67825,"dir":"d"},
{"t":"2024-07-23T00:00Z","lo":67172,"hi":67720,"dir":"d"},{"t":"2024-07-23T02:00Z","lo":67193,"hi":67678,"dir":"u"},{"t":"2024-07-23T04:00Z","lo":66288,"hi":67488,"dir":"d"},{"t":"2024-07-23T06:00Z","lo":66204,"hi":66730,"dir":"u"},{"t":"2024-07-23T08:00Z","lo":66477,"hi":67130,"dir":"u"},{"t":"2024-07-23T10:00Z","lo":66414,"hi":66983,"dir":"d"},{"t":"2024-07-23T12:00Z","lo":65909,"hi":66730,"dir":"d"},{"t":"2024-07-23T14:00Z","lo":65951,"hi":67341,"dir":"u"},{"t":"2024-07-23T16:00Z","lo":65698,"hi":66730,"dir":"d"},{"t":"2024-07-23T18:00Z","lo":65403,"hi":66098,"dir":"d"},{"t":"2024-07-23T20:00Z","lo":65445,"hi":66035,"dir":"u"},{"t":"2024-07-23T22:00Z","lo":65761,"hi":66035,"dir":"u"},
{"t":"2024-07-24T00:00Z","lo":65593,"hi":66119,"dir":"d"},{"t":"2024-07-24T02:00Z","lo":65445,"hi":66098,"dir":"u"},{"t":"2024-07-24T04:00Z","lo":65572,"hi":66056,"dir":"d"},{"t":"2024-07-24T06:00Z","lo":65740,"hi":66035,"dir":"u"},{"t":"2024-07-24T08:00Z","lo":65972,"hi":66435,"dir":"u"},{"t":"2024-07-24T10:00Z","lo":66309,"hi":66583,"dir":"d"},{"t":"2024-07-24T12:00Z","lo":66140,"hi":66878,"dir":"d"},{"t":"2024-07-24T14:00Z","lo":66056,"hi":67088,"dir":"d"},{"t":"2024-07-24T16:00Z","lo":65951,"hi":66688,"dir":"u"},{"t":"2024-07-24T18:00Z","lo":65530,"hi":66625,"dir":"d"},{"t":"2024-07-24T20:00Z","lo":65024,"hi":66056,"dir":"d"},{"t":"2024-07-24T22:00Z","lo":65066,"hi":65635,"dir":"d"},
{"t":"2024-07-25T00:00Z","lo":64203,"hi":65593,"dir":"d"},{"t":"2024-07-25T02:00Z","lo":63824,"hi":64477,"dir":"d"},{"t":"2024-07-25T04:00Z","lo":63803,"hi":64308,"dir":"u"},{"t":"2024-07-25T06:00Z","lo":64034,"hi":64371,"dir":"d"},{"t":"2024-07-25T08:00Z","lo":63845,"hi":64477,"dir":"u"},{"t":"2024-07-25T10:00Z","lo":63950,"hi":64287,"dir":"d"},{"t":"2024-07-25T12:00Z","lo":63697,"hi":64392,"dir":"d"},{"t":"2024-07-25T14:00Z","lo":63445,"hi":64982,"dir":"u"},{"t":"2024-07-25T16:00Z","lo":64603,"hi":65151,"dir":"u"},{"t":"2024-07-25T18:00Z","lo":64350,"hi":65172,"dir":"d"},{"t":"2024-07-25T20:00Z","lo":64392,"hi":65993,"dir":"u"},{"t":"2024-07-25T22:00Z","lo":65593,"hi":66140,"dir":"d"},
{"t":"2024-07-26T00:00Z","lo":65677,"hi":66519,"dir":"u"},{"t":"2024-07-26T02:00Z","lo":66351,"hi":67467,"dir":"u"},{"t":"2024-07-26T04:00Z","lo":66835,"hi":67088,"dir":"d"},{"t":"2024-07-26T06:00Z","lo":66835,"hi":67151,"dir":"d"},{"t":"2024-07-26T08:00Z","lo":66835,"hi":67467,"dir":"u"},{"t":"2024-07-26T10:00Z","lo":67109,"hi":67383,"dir":"u"},{"t":"2024-07-26T12:00Z","lo":67046,"hi":67952,"dir":"u"},{"t":"2024-07-26T14:00Z","lo":66856,"hi":67973,"dir":"d"},{"t":"2024-07-26T16:00Z","lo":67278,"hi":67657,"dir":"d"},{"t":"2024-07-26T18:00Z","lo":67299,"hi":68141,"dir":"u"},{"t":"2024-07-26T20:00Z","lo":67362,"hi":68183,"dir":"d"},{"t":"2024-07-26T22:00Z","lo":67804,"hi":68057,"dir":"d"},
{"t":"2024-07-27T00:00Z","lo":67572,"hi":67909,"dir":"d"},{"t":"2024-07-27T02:00Z","lo":67615,"hi":68057,"dir":"u"},{"t":"2024-07-27T04:00Z","lo":67741,"hi":67973,"dir":"u"},{"t":"2024-07-27T06:00Z","lo":67825,"hi":68267,"dir":"u"},{"t":"2024-07-27T08:00Z","lo":67867,"hi":68183,"dir":"u"},{"t":"2024-07-27T10:00Z","lo":67973,"hi":68246,"dir":"d"},{"t":"2024-07-27T12:00Z","lo":68162,"hi":69363,"dir":"u"},{"t":"2024-07-27T14:00Z","lo":68541,"hi":69384,"dir":"d"},{"t":"2024-07-27T16:00Z","lo":68394,"hi":68962,"dir":"d"},{"t":"2024-07-27T18:00Z","lo":67530,"hi":68962,"dir":"d"},{"t":"2024-07-27T20:00Z","lo":66625,"hi":69194,"dir":"u"},{"t":"2024-07-27T22:00Z","lo":67741,"hi":68815,"dir":"d"},
{"t":"2024-07-28T00:00Z","lo":67214,"hi":68246,"dir":"u"},{"t":"2024-07-28T02:00Z","lo":67888,"hi":68120,"dir":"d"},{"t":"2024-07-28T04:00Z","lo":67025,"hi":67994,"dir":"d"},{"t":"2024-07-28T06:00Z","lo":67278,"hi":67551,"dir":"u"},{"t":"2024-07-28T08:00Z","lo":67172,"hi":67530,"dir":"d"},{"t":"2024-07-28T10:00Z","lo":67362,"hi":67952,"dir":"u"},{"t":"2024-07-28T12:00Z","lo":67699,"hi":68078,"dir":"u"},{"t":"2024-07-28T14:00Z","lo":67509,"hi":67994,"dir":"d"},{"t":"2024-07-28T16:00Z","lo":67572,"hi":67952,"dir":"u"},{"t":"2024-07-28T18:00Z","lo":67888,"hi":68288,"dir":"u"},{"t":"2024-07-28T20:00Z","lo":67762,"hi":68141,"dir":"d"},{"t":"2024-07-28T22:00Z","lo":67909,"hi":68246,"dir":"u"},
{"t":"2024-07-29T00:00Z","lo":68120,"hi":69089,"dir":"u"},{"t":"2024-07-29T02:00Z","lo":68478,"hi":69784,"dir":"u"},{"t":"2024-07-29T04:00Z","lo":69236,"hi":69763,"dir":"u"},{"t":"2024-07-29T06:00Z","lo":69405,"hi":69868,"dir":"d"},{"t":"2024-07-29T08:00Z","lo":69342,"hi":69678,"dir":"d"},{"t":"2024-07-29T10:00Z","lo":69363,"hi":69826,"dir":"u"},{"t":"2024-07-29T12:00Z","lo":69047,"hi":70079,"dir":"d"},{"t":"2024-07-29T14:00Z","lo":67636,"hi":69278,"dir":"d"},{"t":"2024-07-29T16:00Z","lo":66351,"hi":68078,"dir":"d"},{"t":"2024-07-29T18:00Z","lo":66899,"hi":67530,"dir":"u"},{"t":"2024-07-29T20:00Z","lo":66983,"hi":67467,"dir":"u"},{"t":"2024-07-29T22:00Z","lo":66541,"hi":67509,"dir":"d"},
{"t":"2024-07-30T00:00Z","lo":65803,"hi":66856,"dir":"d"},{"t":"2024-07-30T02:00Z","lo":65909,"hi":66646,"dir":"u"},{"t":"2024-07-30T04:00Z","lo":66288,"hi":66793,"dir":"d"},{"t":"2024-07-30T06:00Z","lo":66435,"hi":66962,"dir":"u"},{"t":"2024-07-30T08:00Z","lo":66393,"hi":66941,"dir":"d"},{"t":"2024-07-30T10:00Z","lo":66351,"hi":66667,"dir":"d"},{"t":"2024-07-30T12:00Z","lo":66183,"hi":66920,"dir":"d"},{"t":"2024-07-30T14:00Z","lo":65488,"hi":66414,"dir":"d"},{"t":"2024-07-30T16:00Z","lo":65656,"hi":66519,"dir":"d"},{"t":"2024-07-30T18:00Z","lo":65488,"hi":66056,"dir":"u"},{"t":"2024-07-30T20:00Z","lo":65256,"hi":66267,"dir":"u"},{"t":"2024-07-30T22:00Z","lo":66035,"hi":66309,"dir":"d"},
{"t":"2024-07-31T00:00Z","lo":65824,"hi":66372,"dir":"u"},{"t":"2024-07-31T02:00Z","lo":65993,"hi":66372,"dir":"d"},{"t":"2024-07-31T04:00Z","lo":65445,"hi":66183,"dir":"u"},{"t":"2024-07-31T06:00Z","lo":66077,"hi":66541,"dir":"u"},{"t":"2024-07-31T08:00Z","lo":65993,"hi":66351,"dir":"u"},{"t":"2024-07-31T10:00Z","lo":65909,"hi":66225,"dir":"d"},{"t":"2024-07-31T12:00Z","lo":65951,"hi":66814,"dir":"u"},{"t":"2024-07-31T14:00Z","lo":65930,"hi":66709,"dir":"d"},{"t":"2024-07-31T16:00Z","lo":66246,"hi":66814,"dir":"u"},{"t":"2024-07-31T18:00Z","lo":64877,"hi":66709,"dir":"d"},{"t":"2024-07-31T20:00Z","lo":64498,"hi":65382,"dir":"d"},{"t":"2024-07-31T22:00Z","lo":64582,"hi":65024,"dir":"d"},
{"t":"2024-08-01T00:00Z","lo":64077,"hi":64814,"dir":"d"},{"t":"2024-08-01T02:00Z","lo":63719,"hi":64224,"dir":"d"},{"t":"2024-08-01T04:00Z","lo":63550,"hi":64329,"dir":"u"},{"t":"2024-08-01T06:00Z","lo":64098,"hi":64456,"dir":"u"},{"t":"2024-08-01T08:00Z","lo":64266,"hi":64666,"dir":"u"},{"t":"2024-08-01T10:00Z","lo":64266,"hi":64666,"dir":"u"},{"t":"2024-08-01T12:00Z","lo":64435,"hi":64919,"dir":"u"},{"t":"2024-08-01T14:00Z","lo":62644,"hi":64750,"dir":"d"},{"t":"2024-08-01T16:00Z","lo":62265,"hi":63234,"dir":"u"},{"t":"2024-08-01T18:00Z","lo":62792,"hi":63466,"dir":"u"},{"t":"2024-08-01T20:00Z","lo":63297,"hi":65340,"dir":"u"},{"t":"2024-08-01T22:00Z","lo":64856,"hi":65635,"dir":"u"},
{"t":"2024-08-02T00:00Z","lo":64540,"hi":65572,"dir":"d"},{"t":"2024-08-02T02:00Z","lo":63634,"hi":64814,"dir":"d"},{"t":"2024-08-02T04:00Z","lo":64055,"hi":64624,"dir":"d"},{"t":"2024-08-02T06:00Z","lo":63803,"hi":64624,"dir":"d"},{"t":"2024-08-02T08:00Z","lo":64013,"hi":64603,"dir":"u"},{"t":"2024-08-02T10:00Z","lo":64329,"hi":64961,"dir":"u"},{"t":"2024-08-02T12:00Z","lo":64077,"hi":65530,"dir":"u"},{"t":"2024-08-02T14:00Z","lo":62350,"hi":65340,"dir":"d"},{"t":"2024-08-02T16:00Z","lo":62939,"hi":63592,"dir":"d"},{"t":"2024-08-02T18:00Z","lo":62476,"hi":63192,"dir":"d"},{"t":"2024-08-02T20:00Z","lo":61254,"hi":63171,"dir":"d"},{"t":"2024-08-02T22:00Z","lo":61191,"hi":62223,"dir":"d"},
{"t":"2024-08-03T00:00Z","lo":60475,"hi":61697,"dir":"d"},{"t":"2024-08-03T02:00Z","lo":61170,"hi":61949,"dir":"u"},{"t":"2024-08-03T04:00Z","lo":61381,"hi":61949,"dir":"d"},{"t":"2024-08-03T06:00Z","lo":61591,"hi":61865,"dir":"d"},{"t":"2024-08-03T08:00Z","lo":61423,"hi":61718,"dir":"u"},{"t":"2024-08-03T10:00Z","lo":61634,"hi":61970,"dir":"u"},{"t":"2024-08-03T12:00Z","lo":61802,"hi":62160,"dir":"u"},{"t":"2024-08-03T14:00Z","lo":60791,"hi":62139,"dir":"d"},{"t":"2024-08-03T16:00Z","lo":60370,"hi":61254,"dir":"d"},{"t":"2024-08-03T18:00Z","lo":59885,"hi":60812,"dir":"d"},{"t":"2024-08-03T20:00Z","lo":59801,"hi":60833,"dir":"u"},{"t":"2024-08-03T22:00Z","lo":60349,"hi":60812,"dir":"u"},
{"t":"2024-08-04T00:00Z","lo":60286,"hi":60791,"dir":"u"},{"t":"2024-08-04T02:00Z","lo":60644,"hi":61086,"dir":"d"},{"t":"2024-08-04T04:00Z","lo":60517,"hi":60917,"dir":"u"},{"t":"2024-08-04T06:00Z","lo":60223,"hi":60833,"dir":"d"},{"t":"2024-08-04T08:00Z","lo":60075,"hi":60707,"dir":"u"},{"t":"2024-08-04T10:00Z","lo":60496,"hi":60980,"dir":"u"},{"t":"2024-08-04T12:00Z","lo":60770,"hi":61064,"dir":"d"},{"t":"2024-08-04T14:00Z","lo":58923,"hi":60852,"dir":"d"},{"t":"2024-08-04T16:00Z","lo":57052,"hi":59297,"dir":"d"},{"t":"2024-08-04T18:00Z","lo":57726,"hi":59472,"dir":"u"},{"t":"2024-08-04T20:00Z","lo":58333,"hi":59572,"dir":"d"},{"t":"2024-08-04T22:00Z","lo":57975,"hi":59114,"dir":"d"},
{"t":"2024-08-05T00:00Z","lo":52245,"hi":58291,"dir":"d"},{"t":"2024-08-05T02:00Z","lo":53576,"hi":54690,"dir":"d"},{"t":"2024-08-05T04:00Z","lo":52245,"hi":54549,"dir":"d"},{"t":"2024-08-05T06:00Z","lo":48911,"hi":53077,"dir":"d"},{"t":"2024-08-05T08:00Z","lo":51730,"hi":53202,"dir":"d"},{"t":"2024-08-05T10:00Z","lo":50590,"hi":52653,"dir":"d"},{"t":"2024-08-05T12:00Z","lo":49518,"hi":52570,"dir":"u"},{"t":"2024-08-05T14:00Z","lo":51921,"hi":54965,"dir":"u"},{"t":"2024-08-05T16:00Z","lo":53750,"hi":55539,"dir":"u"},{"t":"2024-08-05T18:00Z","lo":52528,"hi":54690,"dir":"d"},{"t":"2024-08-05T20:00Z","lo":53435,"hi":55198,"dir":"u"},{"t":"2024-08-05T22:00Z","lo":53850,"hi":55073,"dir":"d"},
{"t":"2024-08-06T00:00Z","lo":53933,"hi":56254,"dir":"u"},{"t":"2024-08-06T02:00Z","lo":55447,"hi":56037,"dir":"d"},{"t":"2024-08-06T04:00Z","lo":55222,"hi":55979,"dir":"u"},{"t":"2024-08-06T06:00Z","lo":55405,"hi":56162,"dir":"u"},{"t":"2024-08-06T08:00Z","lo":54549,"hi":56104,"dir":"d"},{"t":"2024-08-06T10:00Z","lo":54840,"hi":55430,"dir":"u"},{"t":"2024-08-06T12:00Z","lo":54291,"hi":55447,"dir":"d"},{"t":"2024-08-06T14:00Z","lo":55114,"hi":56611,"dir":"u"},{"t":"2024-08-06T16:00Z","lo":56212,"hi":56902,"dir":"u"},{"t":"2024-08-06T18:00Z","lo":56270,"hi":57010,"dir":"u"},{"t":"2024-08-06T20:00Z","lo":56079,"hi":56836,"dir":"d"},{"t":"2024-08-06T22:00Z","lo":55788,"hi":56919,"dir":"d"},
{"t":"2024-08-07T00:00Z","lo":55522,"hi":57010,"dir":"u"},{"t":"2024-08-07T02:00Z","lo":56470,"hi":57260,"dir":"d"},{"t":"2024-08-07T04:00Z","lo":56669,"hi":57218,"dir":"d"},{"t":"2024-08-07T06:00Z","lo":56528,"hi":57069,"dir":"u"},{"t":"2024-08-07T08:00Z","lo":56836,"hi":57659,"dir":"u"},{"t":"2024-08-07T10:00Z","lo":56836,"hi":57701,"dir":"d"},{"t":"2024-08-07T12:00Z","lo":56669,"hi":57451,"dir":"d"},{"t":"2024-08-07T14:00Z","lo":56302,"hi":56976,"dir":"d"}
 ]},
 "mark":{"type":"rule","strokeWidth":2,"strokeCap":"butt"},
 "encoding":{
  "x":{"field":"t","type":"temporal","title":null,
   "scale":{"type":"utc","domain":[{"year":2024,"month":"jun","date":15,"hours":14,"minutes":40,"utc":true},{"year":2024,"month":"aug","date":11,"hours":15,"minutes":19,"utc":true}],"nice":false,"round":true},
   "axis":{"values":[{"year":2024,"month":"jun","date":17,"utc":true},{"year":2024,"month":"jun","date":24,"utc":true},{"year":2024,"month":"jul","date":1,"utc":true},{"year":2024,"month":"jul","date":8,"utc":true},{"year":2024,"month":"jul","date":15,"utc":true},{"year":2024,"month":"jul","date":22,"utc":true},{"year":2024,"month":"jul","date":26,"utc":true},{"year":2024,"month":"aug","date":1,"utc":true},{"year":2024,"month":"aug","date":5,"utc":true}],
    "labelExpr":"utcdate(datum.value)===1 ? utcFormat(datum.value,'%b') : utcFormat(datum.value,'%-d')",
    "labelFontWeight":{"condition":{"test":"utcdate(datum.value)===1","value":"bold"},"value":"normal"},
    "labelFont":"Inter","labelFontSize":24,"labelColor":"#131722","labelPadding":19,"labelFlush":false,"labelOverlap":false,
    "grid":true,"gridColor":"#f3f4f7","gridWidth":2,"domain":false,"ticks":false}},
  "y":{"field":"lo","type":"quantitative","title":null,
   "scale":{"domain":[45064,72834],"nice":false,"zero":false,"round":true},
   "axis":{"orient":"right","values":[46000,48000,50000,52000,54000,56000,58000,60000,62000,64000,66000,68000,70000],"format":",.1f",
    "labelFont":"Inter","labelFontSize":24,"labelColor":"#131722","labelPadding":19,"labelFlush":false,"labelOverlap":false,
    "grid":true,"gridColor":"#f3f4f7","gridWidth":2,"domain":false,"ticks":false}},
  "y2":{"field":"hi"},
  "color":{"field":"dir","type":"nominal","scale":{"domain":["u","d"],"range":["#b2b5be","#2a2e39"]},"legend":null}}},
{"data":{"values":[{}]},
 "mark":{"type":"rule","stroke":"#2a2e39","strokeWidth":2,"strokeDash":[2,4]},
 "encoding":{
  "x":{"datum":{"year":2024,"month":"jun","date":15,"hours":14,"minutes":40,"utc":true},"type":"temporal"},
  "x2":{"datum":{"year":2024,"month":"aug","date":11,"hours":15,"minutes":19,"utc":true}},
  "y":{"datum":56393.9,"type":"quantitative"}}},
{"data":{"values":[{}]},
 "mark":{"type":"rect","fill":"#2a2e39","cornerRadiusTopRight":5,"cornerRadiusBottomRight":5},
 "encoding":{
  "x":{"datum":{"year":2024,"month":"aug","date":11,"hours":15,"minutes":19,"utc":true},"type":"temporal"},
  "x2":{"datum":{"year":2024,"month":"aug","date":14,"hours":14,"minutes":10,"utc":true}},
  "y":{"datum":56755,"type":"quantitative"},
  "y2":{"datum":55446}}},
{"data":{"values":[{}]},
 "mark":{"type":"rect","fill":"white","stroke":"#f0f1f6","strokeWidth":2,"cornerRadius":6},
 "encoding":{
  "x":{"datum":{"year":2024,"month":"aug","date":11,"hours":18,"minutes":58,"utc":true},"type":"temporal"},
  "x2":{"datum":{"year":2024,"month":"aug","date":14,"hours":15,"minutes":50,"utc":true}},
  "y":{"datum":72644,"type":"quantitative"},
  "y2":{"datum":71568}}},
{"data":{"values":[{}]},
 "mark":{"type":"text","text":"Bitcoin / TetherUS PERPETUAL CONTRACT, 2h, BINANCE\u00a0\u00a0O56,800.9\u00a0\u00a0H56,975.6\u00a0\u00a0L56,302.0\u00a0\u00a0C56,393.9\u00a0\u00a0\u2212407.0 (\u22120.72%)","align":"left","baseline":"middle","fontSize":23.9,"color":"#131722"},
 "encoding":{
  "x":{"datum":{"year":2024,"month":"jun","date":15,"hours":23,"minutes":8,"utc":true},"type":"temporal"},
  "y":{"datum":72021,"type":"quantitative"}}},
{"data":{"values":[{}]},
 "mark":{"type":"text","text":"USDT","align":"center","baseline":"middle","fontSize":24,"color":"#131722"},
 "encoding":{
  "x":{"datum":{"year":2024,"month":"aug","date":12,"hours":22,"minutes":34,"utc":true},"type":"temporal"},
  "y":{"datum":72021,"type":"quantitative"}}},
{"data":{"values":[{}]},
 "mark":{"type":"text","text":"56,393.9","align":"left","baseline":"middle","fontSize":23,"color":"#ffffff"},
 "encoding":{
  "x":{"datum":{"year":2024,"month":"aug","date":12,"hours":1,"minutes":20,"utc":true},"type":"temporal"},
  "y":{"datum":56405,"type":"quantitative"}}},
{"data":{"values":[{}]},
 "mark":{"type":"text","text":"01:35:00","align":"left","baseline":"middle","fontSize":23,"color":"#c4c6cc"},
 "encoding":{
  "x":{"datum":{"year":2024,"month":"aug","date":12,"hours":1,"minutes":20,"utc":true},"type":"temporal"},
  "y":{"datum":55800,"type":"quantitative"}}},
{"data":{"values":[{}]},
 "mark":{"type":"text","text":"TradingView","align":"left","baseline":"middle","fontSize":25.5,"color":"#131722"},
 "encoding":{
  "x":{"datum":{"year":2024,"month":"jun","date":16,"hours":15,"minutes":0,"utc":true},"type":"temporal"},
  "y":{"datum":43091,"type":"quantitative"}}},
{"data":{"values":[{}]},
 "mark":{"type":"point","filled":true,"fill":"#131722","size":1444,"opacity":1,"shape":"M-0.222 0.5H-0.611V-0.111H-1V-0.5H-0.222ZM0.556 0.5H0.111L0.528 -0.5H0.972ZM-0.111 -0.278a0.222 0.222 0 1 0 0.444 0a0.222 0.222 0 1 0 -0.444 0Z"},
 "encoding":{
  "x":{"datum":{"year":2024,"month":"jun","date":16,"hours":0,"minutes":42,"utc":true},"type":"temporal"},
  "y":{"datum":43144,"type":"quantitative"}}},
{"data":{"values":[{}]},
 "mark":{"type":"point","shape":"circle","filled":true,"fill":"white","stroke":"#9c27b0","strokeWidth":3,"size":1521,"opacity":1},
 "encoding":{
  "x":{"datum":{"year":2024,"month":"aug","date":7,"hours":13,"minutes":56,"utc":true},"type":"temporal"},
  "y":{"datum":45577,"type":"quantitative"}}},
{"data":{"values":[{}]},
 "mark":{"type":"point","filled":true,"fill":"#9c27b0","size":400,"opacity":1,"shape":"M0.4 -1L-0.75 0.1H-0.05L-0.4 1L0.75 -0.15H0.05Z"},
 "encoding":{
  "x":{"datum":{"year":2024,"month":"aug","date":7,"hours":13,"minutes":56,"utc":true},"type":"temporal"},
  "y":{"datum":45577,"type":"quantitative"}}},
{"data":{"values":[{}]},
 "mark":{"type":"point","shape":"circle","filled":true,"fill":"#f23645","stroke":"white","strokeWidth":3,"size":132,"opacity":1},
 "encoding":{
  "x":{"datum":{"year":2024,"month":"aug","date":7,"hours":21,"minutes":20,"utc":true},"type":"temporal"},
  "y":{"datum":45866,"type":"quantitative"}}}
]
}
